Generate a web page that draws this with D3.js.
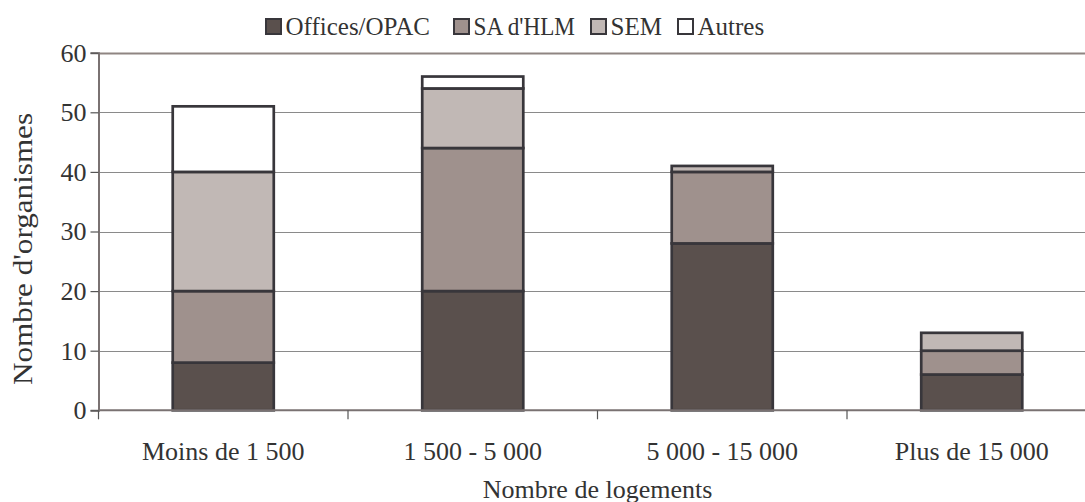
<!DOCTYPE html>
<html><head><meta charset="utf-8">
<script src="https://cdn.jsdelivr.net/npm/d3@7"></script>
<style>html,body{margin:0;padding:0;background:#fff;overflow:hidden}
svg text{font-family:"Liberation Serif","Times New Roman",Times,"DejaVu Serif",serif !important;}</style>
</head><body><svg id="c" width="1085" height="502"></svg>
<script>
const categories = ["Moins de 1 500", "1 500 - 5 000", "5 000 - 15 000", "Plus de 15 000"];
const seriesNames = ["Offices/OPAC", "SA d'HLM", "SEM", "Autres"];
const offices = [8, 20, 28, 6];
const saHlm = [12, 24, 12, 4];
const sem = [20, 10, 1, 3];
const autres = [11, 2, 0, 0];
const yTicks = [0, 10, 20, 30, 40, 50, 60];
const colors = ["#5a504d", "#9f918d", "#c1b8b5", "#ffffff"];

const seriesValues = [offices, saHlm, sem, autres];
const table = categories.map((c, i) => {
  const o = {cat: c};
  seriesNames.forEach((s, j) => o[s] = seriesValues[j][i]);
  return o;
});
const stacked = d3.stack().keys(seriesNames)(table);

const svg = d3.select("#c");
const textCol = "#333";
const pLeft = 98.5, pRight = 1096.5, pTop = 52.7, pBottom = 410.3;

const x = d3.scaleBand().domain(categories).range([pLeft, pRight]).paddingInner(0.595).paddingOuter(0.2975);
const y = d3.scaleLinear().domain([0, 60]).range([pBottom, pTop]);

// gridlines
svg.append("g").selectAll("line").data(yTicks.filter(t => t > 0)).join("line")
  .attr("x1", pLeft).attr("x2", pRight)
  .attr("y1", d => Math.round(y(d)) + 0.5).attr("y2", d => Math.round(y(d)) + 0.5)
  .attr("stroke", d => d === 60 ? "#8f8582" : "#8a8a8a")
  .attr("stroke-width", d => d === 60 ? 2 : 1.2);

// bars
svg.append("g").selectAll("g").data(stacked).join("g")
  .attr("fill", (d, i) => colors[i])
  .selectAll("rect").data(d => d.filter(s => s[1] - s[0] > 0)).join("rect")
  .attr("x", d => x(d.data.cat))
  .attr("width", x.bandwidth())
  .attr("y", d => y(d[1]))
  .attr("height", d => y(d[0]) - y(d[1]))
  .attr("stroke", "#38363b").attr("stroke-width", 2.7);

// y axis
const yAxis = svg.append("g").attr("transform", `translate(${pLeft},0)`)
  .call(d3.axisLeft(y).tickValues(yTicks).tickSize(8).tickPadding(4));
yAxis.attr("font-family", null).attr("font-size", null);
yAxis.select(".domain").attr("stroke", "#7a7272").attr("stroke-width", 2);
yAxis.selectAll(".tick line").attr("stroke", "#555").attr("stroke-width", 1.2);
yAxis.selectAll(".tick text").style("font-size", "26px").attr("fill", textCol);

// x axis line
svg.append("line").attr("x1", pLeft).attr("x2", pRight).attr("y1", pBottom).attr("y2", pBottom)
  .attr("stroke", "#7a7272").attr("stroke-width", 2);
// boundary ticks
const bounds = categories.map(c => x(c) + x.bandwidth() / 2 - x.step() / 2);
svg.append("g").selectAll("line").data(bounds).join("line")
  .attr("x1", d => d).attr("x2", d => d).attr("y1", pBottom).attr("y2", pBottom + 9)
  .attr("stroke", "#555").attr("stroke-width", 1.2);
// x labels
svg.append("g").selectAll("text").data(categories).join("text")
  .attr("x", d => x(d) + x.bandwidth() / 2).attr("y", 459.5)
  .attr("text-anchor", "middle").style("font-size", "26px").attr("fill", textCol)
  .text(d => d);

// axis titles
svg.append("text").attr("x", (pLeft + pRight) / 2).attr("y", 497.5).attr("text-anchor", "middle")
  .style("font-size", "26px").attr("fill", textCol).text("Nombre de logements");
svg.append("text").attr("transform", "translate(31.5,249) rotate(-90)").attr("text-anchor", "middle")
  .style("font-size", "27px").attr("fill", textCol)
  .attr("textLength", 272).attr("lengthAdjust", "spacingAndGlyphs")
  .text("Nombre d'organismes");

// legend
const legendX = [265, 453, 590, 677];
const lg = svg.append("g");
seriesNames.forEach((s, i) => {
  const lx = legendX[i];
  lg.append("rect").attr("x", lx + 1).attr("y", 19).attr("width", 15).attr("height", 15)
    .attr("fill", colors[i]).attr("stroke", "#38363b").attr("stroke-width", 2);
  const t = lg.append("text").attr("x", lx + 20.5).attr("y", 35)
    .style("font-size", "25px").attr("fill", textCol).text(s);
  const avail = (i < legendX.length - 1 ? legendX[i + 1] - 15 : 1085) - (lx + 20.5);
  if (t.node().getComputedTextLength() > avail) {
    t.attr("textLength", avail).attr("lengthAdjust", "spacingAndGlyphs");
  }
});
</script></body></html>
